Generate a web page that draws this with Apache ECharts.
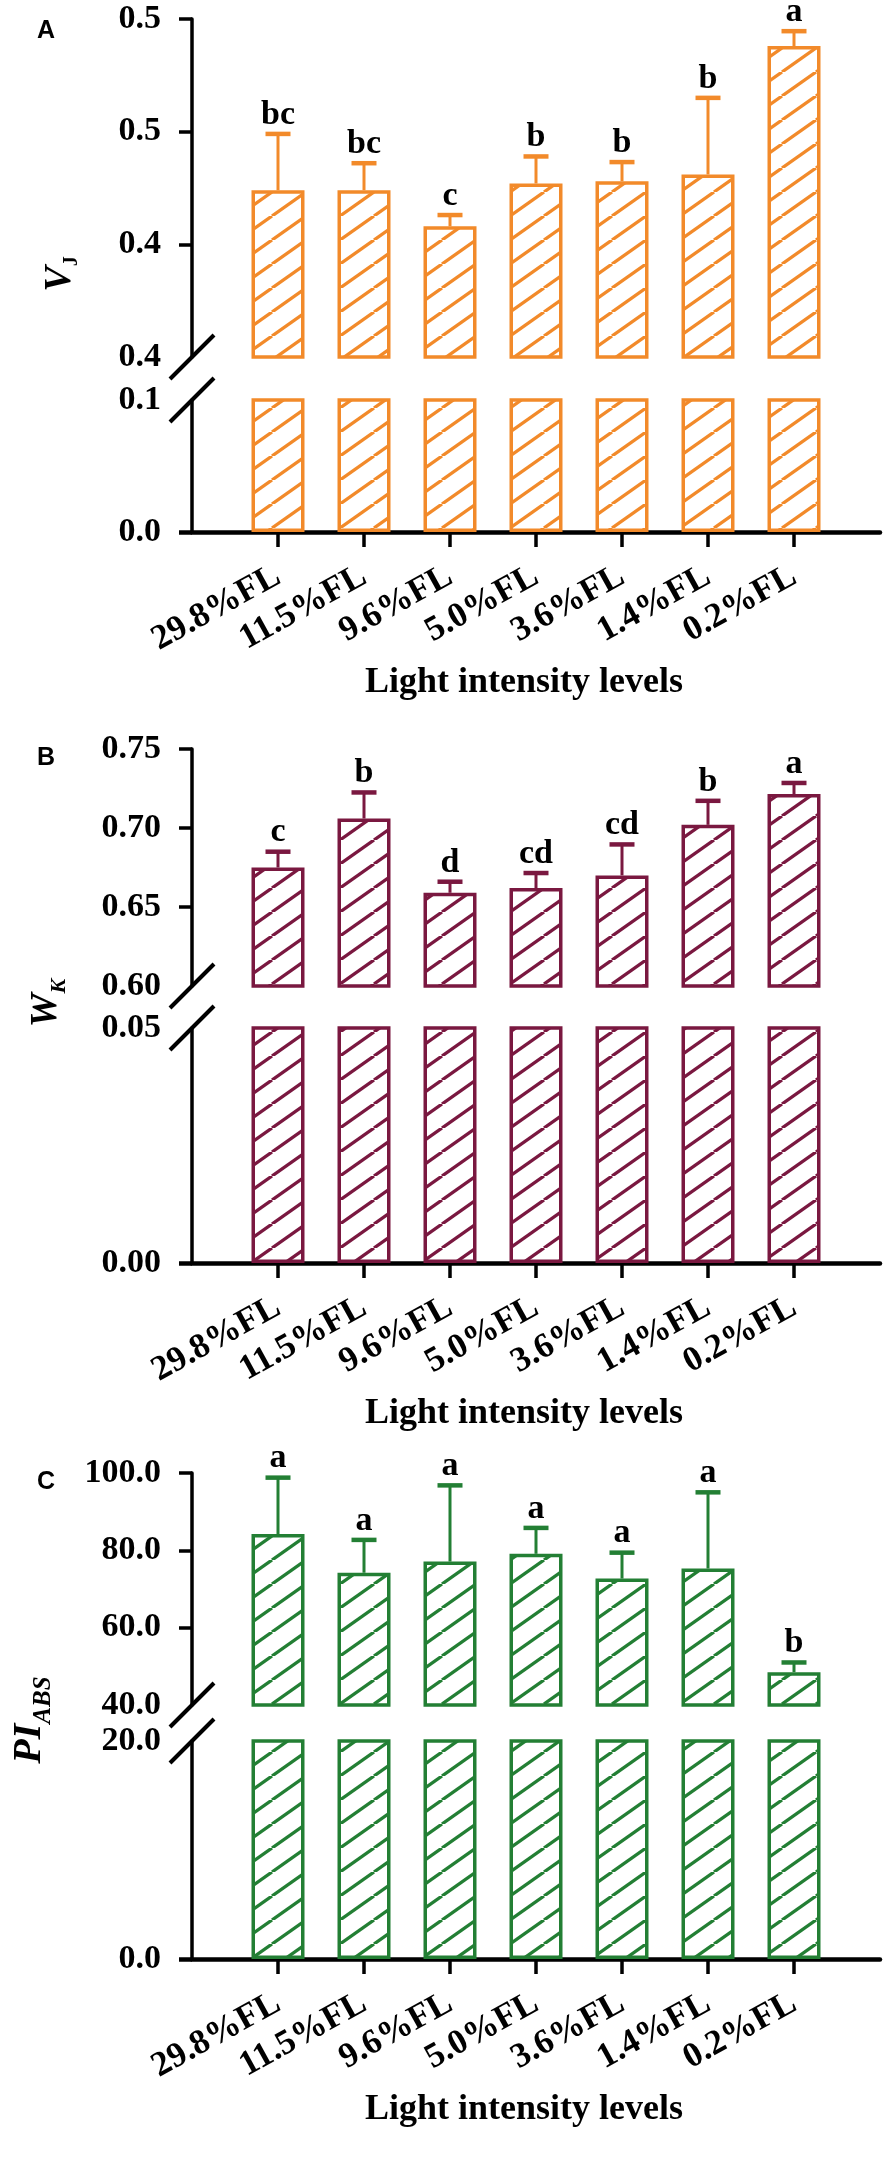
<!DOCTYPE html>
<html>
<head>
<meta charset="utf-8">
<script src="https://cdn.jsdelivr.net/npm/echarts@6/dist/echarts.min.js"></script>
<style>
html, body { margin: 0; padding: 0; background: #fff; }
#chart { width: 888px; height: 2164px; }
</style>
</head>
<body>
<div id="chart"></div>
<script>
var categories = ['29.8%FL', '11.5%FL', '9.6%FL', '5.0%FL', '3.6%FL', '1.4%FL', '0.2%FL'];

// A: VJ
var vjMean = [0.474, 0.474, 0.458, 0.477, 0.478, 0.481, 0.538];
var vjErr = [0.025, 0.012, 0.005, 0.012, 0.0085, 0.034, 0.0066];
var vjLetters = ['bc', 'bc', 'c', 'b', 'b', 'b', 'a'];
var vjUpperTicks = [0.40, 0.45, 0.50, 0.55];
var vjUpperLabels = ['0.4', '0.4', '0.5', '0.5'];
var vjLowerTicks = [0, 0.1];
var vjLowerLabels = ['0.0', '0.1'];

// B: WK
var wkMean = [0.675, 0.706, 0.659, 0.662, 0.670, 0.702, 0.7215];
var wkErr = [0.010, 0.0165, 0.007, 0.0095, 0.0196, 0.0152, 0.007];
var wkLetters = ['c', 'b', 'd', 'cd', 'cd', 'b', 'a'];
var wkUpperTicks = [0.60, 0.65, 0.70, 0.75];
var wkUpperLabels = ['0.60', '0.65', '0.70', '0.75'];
var wkLowerTicks = [0, 0.05];
var wkLowerLabels = ['0.00', '0.05'];

// C: PIabs
var piMean = [84.2, 74.2, 77.1, 79.1, 72.7, 75.3, 48.5];
var piErr = [14.6, 8.5, 19.7, 6.7, 6.7, 19.7, 2.5];
var piLetters = ['a', 'a', 'a', 'a', 'a', 'a', 'b'];
var piUpperTicks = [40, 60, 80, 100];
var piUpperLabels = ['40.0', '60.0', '80.0', '100.0'];
var piLowerTicks = [0, 20];
var piLowerLabels = ['0.0', '20.0'];

var SERIF = '"Liberation Serif", "Times New Roman", serif';
var SANS = '"Liberation Sans", Arial, sans-serif';

// diagonal hatch tile, lines rising to the right
function hatch(color) {
    var w = 34, h = 24;
    var c = document.createElement('canvas');
    c.width = w; c.height = h;
    var ctx = c.getContext('2d');
    ctx.fillStyle = '#fff';
    ctx.fillRect(0, 0, w, h);
    ctx.strokeStyle = color;
    ctx.lineWidth = 3.3;
    [-w, 0, w].forEach(function (o) {
        ctx.beginPath();
        ctx.moveTo(o, h);
        ctx.lineTo(o + w, 0);
        ctx.stroke();
    });
    return c;
}

function labeler(ticks, labels) {
    return function (v) {
        for (var i = 0; i < ticks.length; i++) {
            if (Math.abs(ticks[i] - v) < 1e-9) return labels[i];
        }
        return '';
    };
}

var panels = [
    { mean: vjMean, err: vjErr, letters: vjLetters, color: '#F28A2A',
      up: { top: 19, height: 338, min: 0.40, max: 0.55, ticks: vjUpperTicks, labels: vjUpperLabels },
      low: { top: 400, height: 132, min: 0, max: 0.1, ticks: vjLowerTicks, labels: vjLowerLabels } },
    { mean: wkMean, err: wkErr, letters: wkLetters, color: '#7A1840',
      up: { top: 749, height: 237, min: 0.60, max: 0.75, ticks: wkUpperTicks, labels: wkUpperLabels },
      low: { top: 1028, height: 235, min: 0, max: 0.05, ticks: wkLowerTicks, labels: wkLowerLabels } },
    { mean: piMean, err: piErr, letters: piLetters, color: '#237F34',
      up: { top: 1473, height: 232, min: 40, max: 100, ticks: piUpperTicks, labels: piUpperLabels },
      low: { top: 1741, height: 218, min: 0, max: 20, ticks: piLowerTicks, labels: piLowerLabels } }
];

var catIdx = categories.map(function (c, i) { return i; });
var grids = [], xAxes = [], yAxes = [], series = [];

panels.forEach(function (p, k) {
    [p.up, p.low].forEach(function (seg, j) {
        var g = 2 * k + j;
        var isLow = j === 1;
        grids.push({ left: 192, right: 8, top: seg.top, height: seg.height });
        xAxes.push({
            type: 'value', gridIndex: g, min: -1, max: 7, show: isLow,
            axisLine: { show: true, onZero: false, lineStyle: { color: '#000', width: 4.5 } },
            axisTick: { show: true, customValues: catIdx, length: 15, lineStyle: { color: '#000', width: 3.5 } },
            axisLabel: {
                customValues: catIdx,
                formatter: function (v) { return categories[Math.round(v)]; },
                rotate: 29, margin: 42, color: '#000',
                fontFamily: SERIF, fontWeight: 'bold', fontSize: 35
            },
            splitLine: { show: false },
            name: isLow ? 'Light intensity levels' : '',
            nameLocation: 'middle', nameGap: 133, nameMoveOverlap: false,
            nameTextStyle: { color: '#000', fontFamily: SERIF, fontWeight: 'bold', fontSize: 36, padding: [0, 24, 0, 0] }
        });
        yAxes.push({
            type: 'value', gridIndex: g, min: seg.min, max: seg.max,
            axisLine: { show: true, onZero: false, lineStyle: { color: '#000', width: 3.5 } },
            axisTick: {
                show: true,
                customValues: isLow ? [0] : seg.ticks.slice(1),
                length: 13,
                lineStyle: { color: '#000', width: isLow ? 4.5 : 3.5 }
            },
            axisLabel: {
                customValues: seg.ticks,
                formatter: labeler(seg.ticks, seg.labels),
                margin: 31, color: '#000',
                fontFamily: SERIF, fontWeight: 'bold', fontSize: 34
            },
            splitLine: { show: false }
        });
        series.push({
            type: 'bar', xAxisIndex: g, yAxisIndex: g, barWidth: 53, clip: true, silent: true,
            data: p.mean.map(function (v, i) { return [i, v]; }),
            itemStyle: { color: { image: hatch(p.color), repeat: 'repeat' }, borderColor: p.color, borderWidth: 3.5 }
        });
    });
    series.push({
        type: 'custom', xAxisIndex: 2 * k, yAxisIndex: 2 * k, silent: true, z: 3,
        data: p.mean.map(function (v, i) { return [i, v, v + p.err[i]]; }),
        renderItem: function (params, api) {
            var x = api.value(0);
            var lo = api.coord([x, api.value(1)]);
            var hi = api.coord([x, api.value(2)]);
            return {
                type: 'group',
                children: [
                    { type: 'line', shape: { x1: lo[0], y1: lo[1], x2: hi[0], y2: hi[1] },
                      style: { stroke: p.color, lineWidth: 3 } },
                    { type: 'line', shape: { x1: hi[0] - 12.5, y1: hi[1], x2: hi[0] + 12.5, y2: hi[1] },
                      style: { stroke: p.color, lineWidth: 4.5 } },
                    { type: 'text', x: hi[0], y: hi[1] - 2,
                      style: { text: p.letters[params.dataIndex], fill: '#000',
                               font: 'bold 34px ' + SERIF, align: 'center', verticalAlign: 'bottom' } }
                ]
            };
        }
    });
});

var chart = echarts.init(document.getElementById('chart'), null, { renderer: 'canvas' });
chart.setOption({
    animation: false,
    backgroundColor: '#fff',
    grid: grids,
    xAxis: xAxes,
    yAxis: yAxes,
    series: series
});

// axis titles with subscripts
var measure = document.createElement('canvas').getContext('2d');
function subTitle(cx, cy, main, sub, mainFont, subFont, drop) {
    measure.font = mainFont;
    var wm = measure.measureText(main).width;
    measure.font = subFont;
    var ws = measure.measureText(sub).width;
    var x0 = -(wm + ws) / 2;
    return {
        type: 'group', x: cx, y: cy, rotation: Math.PI / 2,
        children: [
            { type: 'text', x: x0, y: 0, style: { text: main, font: mainFont, fill: '#000', align: 'left', verticalAlign: 'middle' } },
            { type: 'text', x: x0 + wm, y: drop, style: { text: sub, font: subFont, fill: '#000', align: 'left', verticalAlign: 'middle' } }
        ]
    };
}

var graphics = [];
panels.forEach(function (p, k) {
    var pu = chart.convertToPixel({ xAxisIndex: 2 * k, yAxisIndex: 2 * k }, [-1, p.up.min]);
    var pl = chart.convertToPixel({ xAxisIndex: 2 * k + 1, yAxisIndex: 2 * k + 1 }, [-1, p.low.max]);
    [pu, pl].forEach(function (pt) {
        graphics.push({
            type: 'line', z: 10,
            shape: { x1: pt[0] - 22, y1: pt[1] + 22, x2: pt[0] + 22, y2: pt[1] - 22 },
            style: { stroke: '#000', lineWidth: 4 }
        });
    });
});

['A', 'B', 'C'].forEach(function (t, k) {
    graphics.push({
        type: 'text', x: 37, y: [19, 746, 1470][k],
        style: { text: t, font: 'bold 25px ' + SANS, fill: '#000', align: 'left', verticalAlign: 'top' }
    });
});

graphics.push(subTitle(60, 274, 'V', 'J', 'italic bold 38px ' + SERIF, 'bold 20px ' + SERIF, 12));
graphics.push(subTitle(46, 1003, 'W', 'K', 'italic bold 38px ' + SERIF, 'italic bold 22px ' + SERIF, 13));
graphics.push(subTitle(30, 1720, 'PI', 'ABS', 'italic bold 40px ' + SERIF, 'italic bold 25px ' + SERIF, 14));

chart.setOption({ graphic: graphics });
</script>
</body>
</html>
